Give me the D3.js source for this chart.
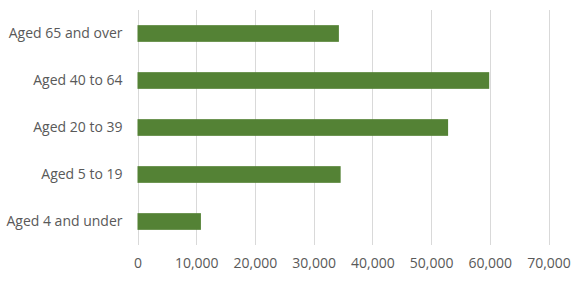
<!DOCTYPE html>
<html>
<head>
<meta charset="utf-8">
<script src="https://cdnjs.cloudflare.com/ajax/libs/d3/7.8.5/d3.min.js"></script>
<style>
  html, body { margin: 0; background: #fff; }
  svg text { font-family: "Open Sans", "Liberation Sans", sans-serif; fill: #595959; }
</style>
</head>
<body>
<svg id="chart" width="581" height="282"></svg>
<script>
var categories = ["Aged 65 and over", "Aged 40 to 64", "Aged 20 to 39", "Aged 5 to 19", "Aged 4 and under"];
var values = [34300, 59900, 52900, 34600, 10800];
var ticks = [0, 10000, 20000, 30000, 40000, 50000, 60000, 70000];

var margin = {top: 10, left: 137.5, right: 32.5, bottom: 37};
var width = 581, height = 282;

var svg = d3.select("#chart");

var x = d3.scaleLinear().domain([0, 70000]).range([margin.left, width - margin.right]);
var y = d3.scaleBand().domain(categories).range([margin.top, height - margin.bottom]).paddingInner(0.645).paddingOuter(0.3225);

// gridlines
svg.append("g").selectAll("line")
  .data(ticks)
  .enter().append("line")
  .attr("x1", function (d) { return Math.round(x(d)) + 0.5; })
  .attr("x2", function (d) { return Math.round(x(d)) + 0.5; })
  .attr("y1", margin.top)
  .attr("y2", height - margin.bottom)
  .attr("stroke", "#d9d9d9")
  .attr("stroke-width", 1);

// bars
svg.append("g").selectAll("rect")
  .data(values)
  .enter().append("rect")
  .attr("x", x(0))
  .attr("y", function (d, i) { return y(categories[i]); })
  .attr("width", function (d) { return x(d) - x(0); })
  .attr("height", y.bandwidth())
  .attr("fill", "#548235");

// x axis labels
var xAxis = d3.axisBottom(x).tickValues(ticks).tickSize(0).tickPadding(0)
  .tickFormat(d3.format(","));
svg.append("g")
  .attr("transform", "translate(0," + (height - margin.bottom + 13) + ")")
  .call(xAxis)
  .call(function (g) { g.select(".domain").remove(); })
  .selectAll("text")
  .style("font-size", "14px")
  .attr("font-family", null);

// y axis labels
var yAxis = d3.axisLeft(y).tickSize(0).tickPadding(15);
svg.append("g")
  .attr("transform", "translate(" + margin.left + ",0)")
  .call(yAxis)
  .call(function (g) { g.select(".domain").remove(); })
  .selectAll("text")
  .style("font-size", "14px")
  .attr("font-family", null);
</script>
</body>
</html>
